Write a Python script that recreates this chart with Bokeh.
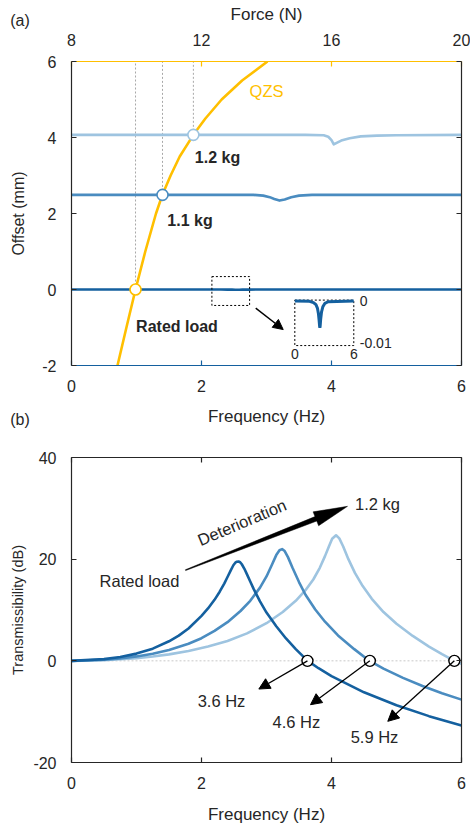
from bokeh.plotting import figure
from bokeh.models import Range1d, LinearAxis, Arrow, NormalHead, FixedTicker
from bokeh.layouts import column
from bokeh.embed import file_html
from bokeh.resources import INLINE
from bokeh.core.properties import value

FONT = "Liberation Sans"
INK = "#262626"
DARK = "#14609f"
MID = "#4a8cc0"
LIGHT = "#9ec4e0"
GOLD = "#ffbf00"

# ---------------- panel (a) data ----------------
qzs_force = [9.415, 9.69, 9.97, 10.27, 10.60, 10.80, 11.05, 11.33, 11.75, 12.12, 12.62, 13.25, 14.03]
qzs_offset = [-2, -1, 0, 1, 2, 2.5, 3, 3.5, 4.07, 4.5, 5, 5.5, 6]

rated_freq_a = [0, 1.5, 1.9, 2.15, 2.3, 2.4, 2.47, 2.52, 2.55, 2.58, 2.63, 2.72, 2.85, 3.05, 3.4, 6]
rated_offset_a = [0, -0.0001, -0.0004, -0.0009, -0.0017, -0.0030, -0.0046, -0.0060, -0.0064,
                  -0.0060, -0.0044, -0.0026, -0.0014, -0.0006, -0.0002, 0]

mid_freq_a = [0, 2.8, 2.95, 3.05, 3.12, 3.2, 3.28, 3.38, 3.5, 3.7, 6.0]
mid_offset_a = [2.49, 2.49, 2.47, 2.43, 2.38, 2.34, 2.37, 2.43, 2.47, 2.49, 2.49]

heavy_freq_a = [0, 3.6, 3.88, 3.95, 4.0, 4.035, 4.08, 4.15, 4.28, 4.45, 4.7, 5.0, 6.0]
heavy_offset_a = [4.07, 4.07, 4.06, 4.02, 3.93, 3.82, 3.86, 3.92, 3.98, 4.03, 4.05, 4.06, 4.07]

eq_force = [9.97, 10.80, 11.75]
eq_offset = [0, 2.49, 4.07]
eq_colors = [GOLD, MID, LIGHT]

force_ticks = [8, 12, 16, 20]
offset_ticks = [-2, 0, 2, 4, 6]
freq_ticks = [0, 2, 4, 6]
db_ticks = [-20, 0, 20, 40]
inset_zoom_box = (2.16, 2.74, -0.42, 0.34)   # freq0, freq1, off0, off1

# ---------------- panel (b) data ----------------
rated_f = [0, 0.5, 0.75, 1.0, 1.25, 1.5, 1.65, 1.8, 2.0, 2.1, 2.2, 2.28, 2.35, 2.4, 2.45, 2.49, 2.52,
           2.545, 2.57, 2.595, 2.62, 2.66, 2.7, 2.75, 2.8, 2.9, 3.0, 3.15, 3.3, 3.45, 3.63, 3.8, 4.0,
           4.5, 5.0, 5.5, 6.0]
rated_db = [0, 0.34, 0.77, 1.42, 2.40, 3.85, 4.95, 6.35, 8.85, 10.3, 12.0, 13.6, 15.2, 16.5, 17.8,
            18.8, 19.3, 19.5, 19.54, 19.4, 19.0, 18.1, 17.0, 15.6, 14.2, 11.7, 9.5, 6.8,
            4.4, 2.3, 0.04, -1.45, -3.00, -6.19, -8.74, -10.88, -12.72]

mid_f = [0, 0.5, 0.75, 1.0, 1.25, 1.5, 1.8, 2.0, 2.2, 2.4, 2.6, 2.75, 2.9, 3.0, 3.08, 3.15, 3.2, 3.24,
         3.28, 3.33, 3.4, 3.5, 3.6, 3.75, 3.9, 4.1, 4.35, 4.58, 4.8, 5.1, 5.4, 5.7, 6.0]
mid_db = [0, 0.21, 0.48, 0.87, 1.40, 2.15, 3.35, 4.45, 5.9, 7.6, 9.8, 11.8, 14.4, 16.6, 18.8,
          20.8, 21.75, 21.97, 21.6, 20.4, 18.3, 15.5, 13.0, 10.1, 7.7, 5.0, 2.3, 0.02, -1.53,
          -3.36, -4.95, -6.36, -7.63]

heavy_f = [0, 0.5, 0.75, 1.0, 1.25, 1.5, 1.8, 2.1, 2.4, 2.7, 3.0, 3.25, 3.45, 3.6, 3.72, 3.82, 3.9,
           3.96, 4.01, 4.07, 4.12, 4.18, 4.26, 4.36, 4.48, 4.62, 4.8, 5.0, 5.25, 5.5, 5.7, 5.89, 6.0]
heavy_db = [0, 0.13, 0.30, 0.54, 0.86, 1.27, 1.95, 2.8, 3.9, 5.4, 7.4, 9.6, 11.8, 13.9, 16.0,
            18.3, 20.6, 22.5, 24.0, 24.70, 24.1, 22.5, 20.0, 17.3, 14.7, 12.2, 9.6, 7.3,
            4.9, 2.8, 1.3, 0.0, -0.60]

cross_freq = [3.63, 4.59, 5.89]
cross_labels = ["3.6 Hz", "4.6 Hz", "5.9 Hz"]

W = 470


def style_axis(ax, color=INK, labels=True, ticks=None):
    ax.axis_line_color = color
    ax.axis_line_width = 1.2
    ax.major_label_text_font = FONT
    ax.major_label_text_color = INK
    ax.axis_label_text_font = FONT
    ax.axis_label_text_font_size = "17px"
    ax.axis_label_text_font_style = "normal"
    ax.axis_label_text_color = INK
    if labels:
        ax.ticker = FixedTicker(ticks=ticks)
        ax.major_tick_line_color = color
        ax.major_tick_line_width = 1.2
        ax.major_tick_in = 5
        ax.major_tick_out = 0
        ax.minor_tick_line_color = None
        ax.major_label_text_font_size = "16px"
        ax.major_label_standoff = 15
        ax.major_label_overrides = {t: (str(t) if t >= 0 else "-" + str(-t)) for t in ticks}
    else:
        # tick marks only (no labels): drawn as minor ticks
        ax.ticker = FixedTicker(ticks=[], minor_ticks=ticks)
        ax.major_tick_line_color = None
        ax.minor_tick_line_color = color
        ax.minor_tick_line_width = 1.2
        ax.minor_tick_in = 5
        ax.minor_tick_out = 0


def strip(height):
    s = figure(width=W, height=height, x_range=Range1d(0, W), y_range=Range1d(height, 0),
               output_backend="svg", toolbar_location=None, x_axis_location=None,
               y_axis_location=None, min_border_left=0, min_border_right=0,
               min_border_top=0, min_border_bottom=0, frame_align=False)
    s.grid.visible = False
    s.outline_line_color = None
    return s


# ---- top strip: panel letter and force axis title ----
sa = strip(30)
sa.text(x=[19.5], y=[20], text=["(a)"], text_font=value(FONT), text_font_size="16px",
        text_color=INK, text_align="center", text_baseline="middle")
sa.text(x=[266], y=[13.5], text=["Force (N)"], text_font=value(FONT), text_font_size="17px",
        text_color=INK, text_align="center", text_baseline="middle")

# ================= panel (a) =================
p1 = figure(width=W, height=370, x_range=Range1d(0, 6), y_range=Range1d(-2, 6),
            output_backend="svg", toolbar_location=None,
            min_border_left=71, min_border_right=9, min_border_top=29, min_border_bottom=35)
p1.grid.visible = False
p1.outline_line_color = None

# inset placement inside the frame (fractions of frame width / height)
ifx0, ifx1 = 0.5726, 0.7238
ify_zero, ify_m01 = 0.2124, 0.07516
span_x = 6 / (ifx1 - ifx0)
ix0 = -ifx0 * span_x
span_y = 0.01 / (ify_zero - ify_m01)
iy0 = -0.01 - ify_m01 * span_y
p1.extra_x_ranges = {"force": Range1d(8, 20), "ix": Range1d(ix0, ix0 + span_x)}
p1.extra_y_ranges = {"iy": Range1d(iy0, iy0 + span_y)}

style_axis(p1.below[0], color=DARK, ticks=freq_ticks)
p1.below[0].major_label_standoff = 14
ly = p1.left[0]
style_axis(ly, ticks=offset_ticks)
ly.axis_label = "Offset (mm)"
ly.axis_label_text_font_size = "16px"
ly.axis_label_standoff = 12

top = LinearAxis(x_range_name="force")
style_axis(top, color=GOLD, ticks=force_ticks)
top.major_label_standoff = 16
p1.add_layout(top, "above")
ry = LinearAxis()
style_axis(ry, labels=False, ticks=offset_ticks)
p1.add_layout(ry, "right")

# dashed guides from equilibrium points up to the top
p1.segment(x0=eq_force, y0=eq_offset, x1=eq_force, y1=[6] * 3, x_range_name="force",
           line_color="#a8a8a8", line_dash="2 2", line_width=1)

p1.line(rated_freq_a, rated_offset_a, line_color=DARK, line_width=2.6)
p1.line(mid_freq_a, mid_offset_a, line_color=MID, line_width=2.6, line_join="round")
p1.line(heavy_freq_a, heavy_offset_a, line_color=LIGHT, line_width=2.6, line_join="round")
p1.line(qzs_force, qzs_offset, x_range_name="force", line_color=GOLD, line_width=2.6)
p1.scatter(eq_force, eq_offset, x_range_name="force", size=11, fill_color="white",
           line_color=eq_colors, line_width=1.6)

# zoom box and inset
zx0, zx1, zy0, zy1 = inset_zoom_box
p1.quad(left=[zx0], right=[zx1], bottom=[zy0], top=[zy1], fill_color=None,
        line_color="black", line_dash="2 2", line_width=1)
p1.quad(left=[0], right=[6], bottom=[-0.0107], top=[0.0002], fill_color=None,
        line_color="black", line_dash="2 2", line_width=1, x_range_name="ix", y_range_name="iy")
p1.line(rated_freq_a, rated_offset_a, line_color=DARK, line_width=3,
        x_range_name="ix", y_range_name="iy")
p1.text(x=[0, 6], y=[-0.0107, -0.0107], text=["0", "6"], x_range_name="ix", y_range_name="iy",
        text_font=value(FONT), text_font_size="14px", text_color=INK,
        text_align="center", text_baseline="top", y_offset=3)
p1.text(x=[6, 6], y=[0, -0.01], text=["0", "-0.01"], x_range_name="ix", y_range_name="iy",
        text_font=value(FONT), text_font_size="14px", text_color=INK,
        text_align="left", text_baseline="middle", x_offset=6)
p1.add_layout(Arrow(end=NormalHead(size=10, fill_color="black", line_color="black"),
                    x_start=2.834, y_start=-0.489, x_end=3.257, y_end=-1.054,
                    line_color="black", line_width=1.4))

p1.text(x=[2.246, 1.823, 1.623], y=[3.477, 1.817, -0.98], text=["1.2 kg", "1.1 kg", "Rated load"],
        text_font=value(FONT), text_font_size="16px", text_font_style="bold", text_color=INK,
        text_align="center", text_baseline="middle")
p1.text(x=[3.0], y=[5.215], text=["QZS"], text_font=value(FONT), text_font_size="16.5px",
        text_color=GOLD, text_align="center", text_baseline="middle")

# ---- middle strip: panel (a) x-axis title and panel letter (b) ----
sb = strip(32)
sb.text(x=[266], y=[15.5], text=["Frequency (Hz)"], text_font=value(FONT), text_font_size="17px",
        text_color=INK, text_align="center", text_baseline="middle")
sb.text(x=[19.5], y=[18.5], text=["(b)"], text_font=value(FONT), text_font_size="16px",
        text_color=INK, text_align="center", text_baseline="middle")

# ================= panel (b) =================
p2 = figure(width=W, height=394, x_range=Range1d(0, 6), y_range=Range1d(-20, 40),
            output_backend="svg", toolbar_location=None,
            min_border_left=71, min_border_right=9, min_border_top=25, min_border_bottom=63)
p2.grid.visible = False
p2.outline_line_color = None
bx2 = p2.below[0]
style_axis(bx2, ticks=freq_ticks)
bx2.major_label_standoff = 14
bx2.axis_label = "Frequency (Hz)"
bx2.axis_label_standoff = 13
ly2 = p2.left[0]
style_axis(ly2, ticks=db_ticks)
ly2.axis_label = "Transmissibility (dB)"
ly2.axis_label_text_font_size = "14.5px"
ly2.axis_label_standoff = 4
t2 = LinearAxis()
style_axis(t2, labels=False, ticks=freq_ticks)
p2.add_layout(t2, "above")
r2 = LinearAxis()
style_axis(r2, labels=False, ticks=db_ticks)
p2.add_layout(r2, "right")

p2.line([0, 6], [0, 0], line_color="#c8c8c8", line_dash="2 2", line_width=1)
p2.line(heavy_f, heavy_db, line_color=LIGHT, line_width=2.6, line_join="round")
p2.line(mid_f, mid_db, line_color=MID, line_width=2.6, line_join="round")
p2.line(rated_f, rated_db, line_color=DARK, line_width=2.6, line_join="round")


# tapered "deterioration" arrow
def wedge(x0, y0, x1, y1, sx, sy, w0=0.4, w1=2.4, hl=34, hw=7.5):
    X0, Y0, X1, Y1 = x0 * sx, y0 * sy, x1 * sx, y1 * sy
    dx, dy = X1 - X0, Y1 - Y0
    L = (dx * dx + dy * dy) ** 0.5
    ux, uy = dx / L, dy / L
    nx, ny = -uy, ux
    bxx, byy = X1 - ux * hl, Y1 - uy * hl
    pts = [(X0 + nx * w0, Y0 + ny * w0), (bxx + nx * w1, byy + ny * w1), (bxx + nx * hw, byy + ny * hw),
           (X1, Y1), (bxx - nx * hw, byy - ny * hw), (bxx - nx * w1, byy - ny * w1),
           (X0 - nx * w0, Y0 - ny * w0)]
    return [p[0] / sx for p in pts], [p[1] / sy for p in pts]


wx, wy = wedge(1.754, 17.84, 4.246, 30.39, 390 / 6, 306 / 60)
p2.patch(wx, wy, fill_color="black", line_color="black", line_width=0.5)

label_x = [2.308, 3.46, 4.662]
label_y = [-7.84, -11.96, -14.9]
tip_x = [2.882, 3.677, 4.866]
tip_y = [-5.55, -8.63, -11.9]
for cf, tx, ty in zip(cross_freq, tip_x, tip_y):
    p2.add_layout(Arrow(end=NormalHead(size=11, fill_color="black", line_color="black"),
                        x_start=cf, y_start=0, x_end=tx, y_end=ty,
                        line_color="black", line_width=1.3))
p2.scatter(cross_freq, [0, 0, 0], size=11, fill_color="white", line_color="black", line_width=1.4)

p2.text(x=label_x, y=label_y, text=cross_labels, text_font=value(FONT), text_font_size="16.5px",
        text_color=INK, text_align="center", text_baseline="middle")
p2.text(x=[1.046, 4.708], y=[15.7, 30.78], text=["Rated load", "1.2 kg"], text_font=value(FONT),
        text_font_size="16.5px", text_color=INK, text_align="center", text_baseline="middle")
p2.text(x=[2.623], y=[27.25], text=["Deterioration"], text_font=value(FONT), text_font_size="16.5px",
        text_color=INK, text_align="center", text_baseline="middle", angle=0.401)

layout = column(sa, p1, sb, p2, spacing=0)
open("out.html", "w").write(file_html(layout, INLINE))
